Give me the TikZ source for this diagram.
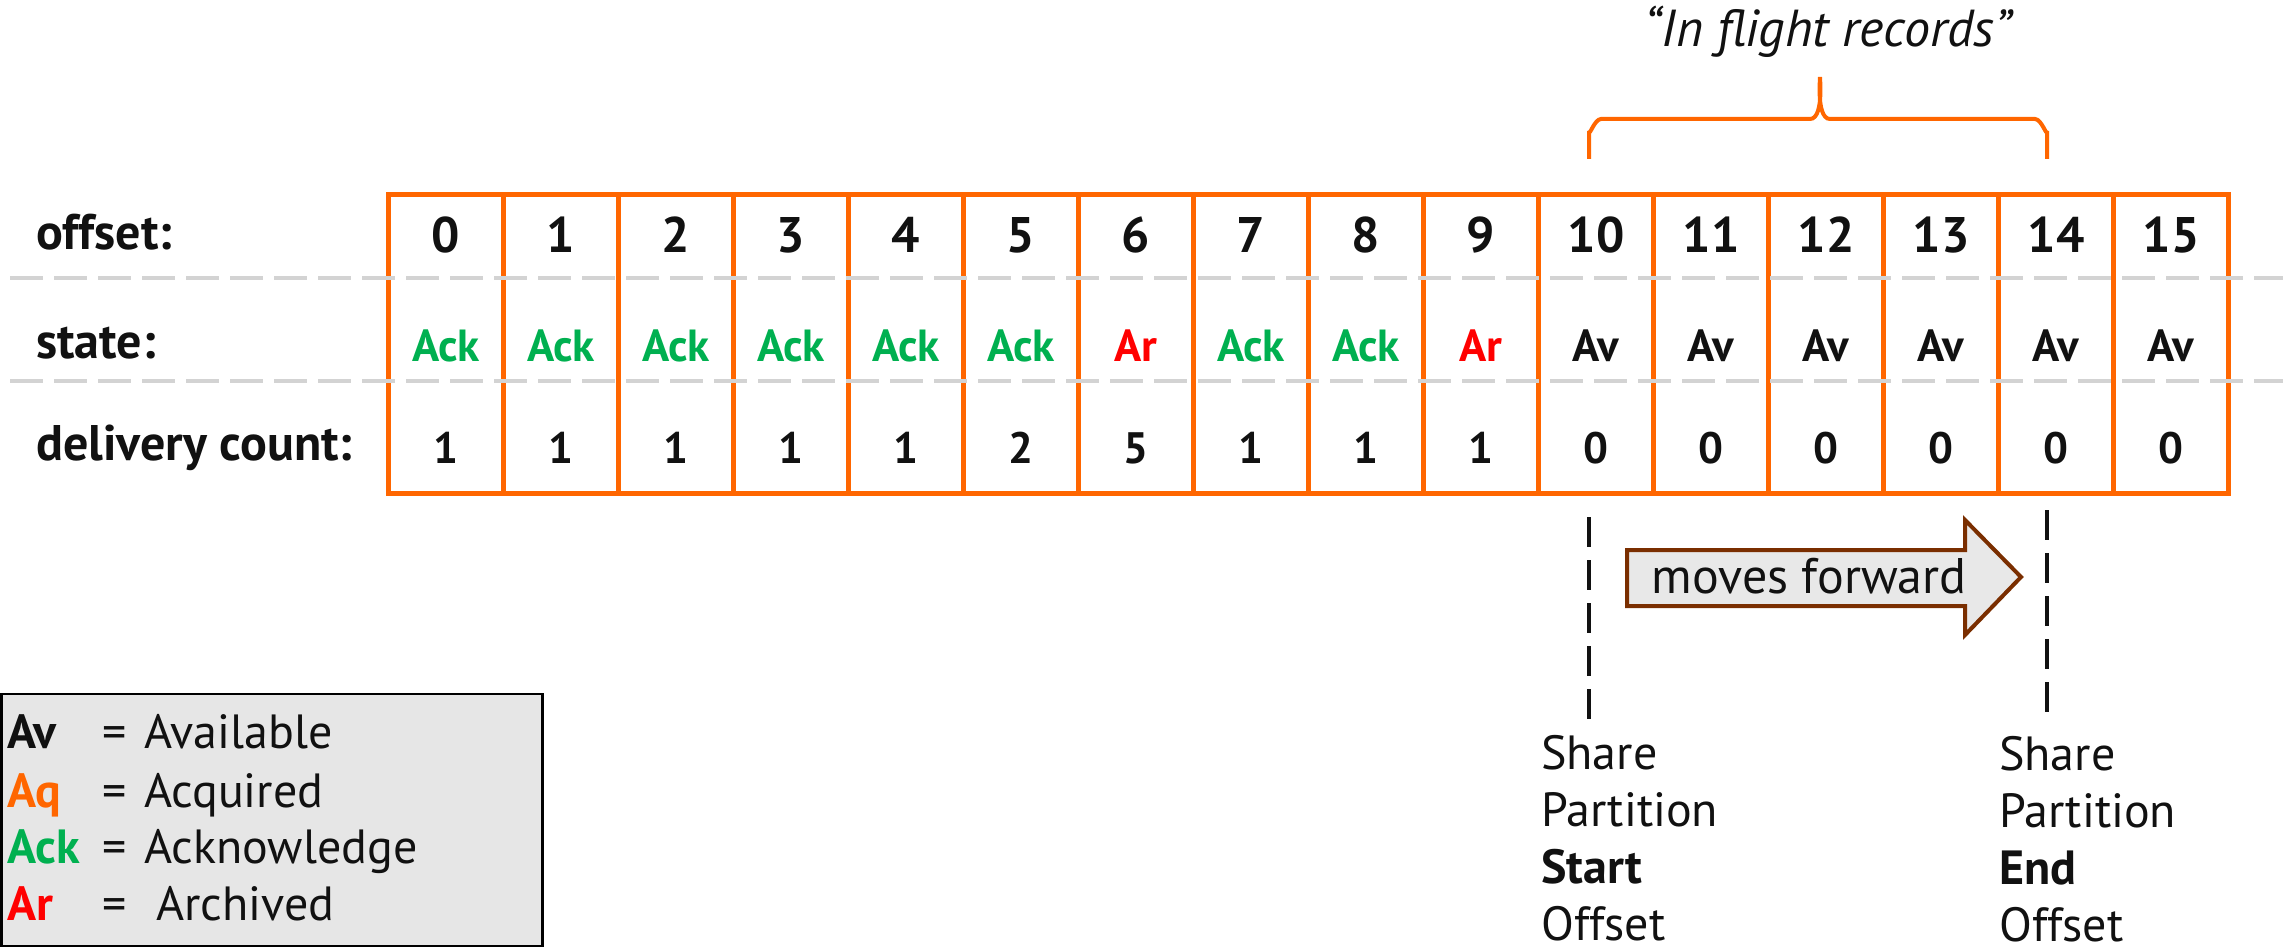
\documentclass[tikz,border=0pt]{standalone}
\usepackage{fontspec}
\setmainfont{PT Sans}
\definecolor{ingorange}{HTML}{FF6600}
\definecolor{ackgreen}{HTML}{00B050}
\definecolor{arred}{HTML}{FF0000}
\definecolor{dashgray}{HTML}{D3D3D3}
\definecolor{legfill}{HTML}{E6E6E6}
\definecolor{arrowbrown}{HTML}{7A2E00}
\definecolor{arrowfill}{HTML}{E8E8E8}
\definecolor{txtblack}{HTML}{111111}
\begin{document}
\begin{tikzpicture}[x=1pt,y=-1pt,
  cellbox/.style={draw=ingorange, line width=5pt, minimum width=115pt, minimum height=298pt, inner sep=0pt},
  offtxt/.style={font=\fontsize{50}{60}\selectfont\bfseries, text=txtblack, inner sep=0pt, anchor=base},
  sttxt/.style={font=\fontsize{45}{54}\selectfont\bfseries, inner sep=0pt, anchor=base},
  dctxt/.style={font=\fontsize{44}{53}\selectfont\bfseries, text=txtblack, inner sep=0pt, anchor=base},
  rowlbl/.style={font=\fontsize{50}{60}\selectfont\bfseries, text=txtblack, inner sep=0pt, anchor=base west},
  graydash/.style={draw=dashgray, line width=4pt, dash pattern=on 33pt off 11pt},
  blackdash/.style={draw=txtblack, line width=4pt, dash pattern=on 30pt off 13pt},
  legtxt/.style={font=\fontsize{48}{57}\selectfont, text=txtblack, inner sep=0pt, anchor=base west},
  legabbr/.style={font=\fontsize{48}{57}\selectfont\bfseries, inner sep=0pt, anchor=base west},
  sptxt/.style={font=\fontsize{48}{57}\selectfont, text=txtblack, inner sep=0pt, anchor=north west, align=left},
  bracestyle/.style={draw=ingorange, line width=4pt}
]
\useasboundingbox (0,0) rectangle (2295,952);

% row labels
\node[rowlbl] (lbloff) at (36,250) {offset:};
\node[rowlbl] (lblst) at (36,358) {state:};
\node[rowlbl] (lbldc) at (36,460) {delivery count:};

% cells
\foreach \i/\st/\sc/\dc in {0/Ack/ackgreen/1,1/Ack/ackgreen/1,2/Ack/ackgreen/1,3/Ack/ackgreen/1,
  4/Ack/ackgreen/1,5/Ack/ackgreen/2,6/Ar/arred/5,7/Ack/ackgreen/1,8/Ack/ackgreen/1,9/Ar/arred/1,
  10/Av/txtblack/0,11/Av/txtblack/0,12/Av/txtblack/0,13/Av/txtblack/0,14/Av/txtblack/0,15/Av/txtblack/0}{
  \node[cellbox] (cell\i) at ({388.5+115*\i+57.5},344) {};
  \node[offtxt] (off\i) at ({388.5+115*\i+57.5},252) {\i};
  \node[sttxt, text=\sc] (st\i) at ({388.5+115*\i+57.5},361) {\st};
  \node[dctxt] (dc\i) at ({388.5+115*\i+57.5},463) {\dc};
}

% gray dashed separators
\coordinate (g1a) at (10,278);
\coordinate (g1b) at (2283,278);
\coordinate (g2a) at (10,381);
\coordinate (g2b) at (2283,381);
\draw[graydash] (g1a) -- (g1b);
\draw[graydash] (g2a) -- (g2b);

% brace
\draw[bracestyle] (1589,159) -- (1589,131) to[out=-90,in=180] (1601,119) -- (1810,119)
  to[out=0,in=95] (1820,80) to[out=85,in=180] (1830,119) -- (2035,119)
  to[out=0,in=-90] (2047,131) -- (2047,159);
\node[font=\fontsize{52}{62}\selectfont\itshape, text=txtblack, inner sep=0pt, anchor=base] (inflight) at (1828,47) {“In flight records”};

% vertical dashed markers
\coordinate (vsa) at (1589,517);
\coordinate (vsb) at (1589,723);
\coordinate (vea) at (2047,510);
\coordinate (veb) at (2047,717);
\draw[blackdash] (vsa) -- (vsb);
\draw[blackdash] (vea) -- (veb);

% moves forward arrow
\draw[draw=arrowbrown, line width=4pt, fill=arrowfill, line join=miter]
  (1627,550) -- (1965,550) -- (1965,520) -- (2021,577) -- (1965,635) -- (1965,606) -- (1627,606) -- cycle;
\node[font=\fontsize{50}{60}\selectfont, text=txtblack, inner sep=0pt, anchor=base] (mf) at (1809,593) {moves forward};

% share partition labels
\node[sptxt] (spstart) at (1541,735) {Share\\Partition\\\textbf{Start}\\Offset};
\node[sptxt] (spend) at (1999,736) {Share\\Partition\\\textbf{End}\\Offset};

% legend
\node[draw=black, line width=2.5pt, fill=legfill, minimum width=541pt, minimum height=252pt, inner sep=0pt] (legend) at (272,820) {};
\node[legabbr, text=txtblack] (lav) at (7,748) {Av};
\node[legtxt] (eav) at (102,748) {=};
\node[legtxt] (tav) at (144,748) {Available};
\node[legabbr, text=ingorange] (laq) at (7,807) {Aq};
\node[legtxt] (eaq) at (102,807) {=};
\node[legtxt] (taq) at (144,807) {Acquired};
\node[legabbr, text=ackgreen] (lack) at (7,863) {Ack};
\node[legtxt] (eack) at (102,863) {=};
\node[legtxt] (tack) at (144,863) {Acknowledge};
\node[legabbr, text=arred] (lar) at (7,920) {Ar};
\node[legtxt] (ear) at (102,920) {=};
\node[legtxt] (tar) at (156,920) {Archived};
\end{tikzpicture}
\end{document}
